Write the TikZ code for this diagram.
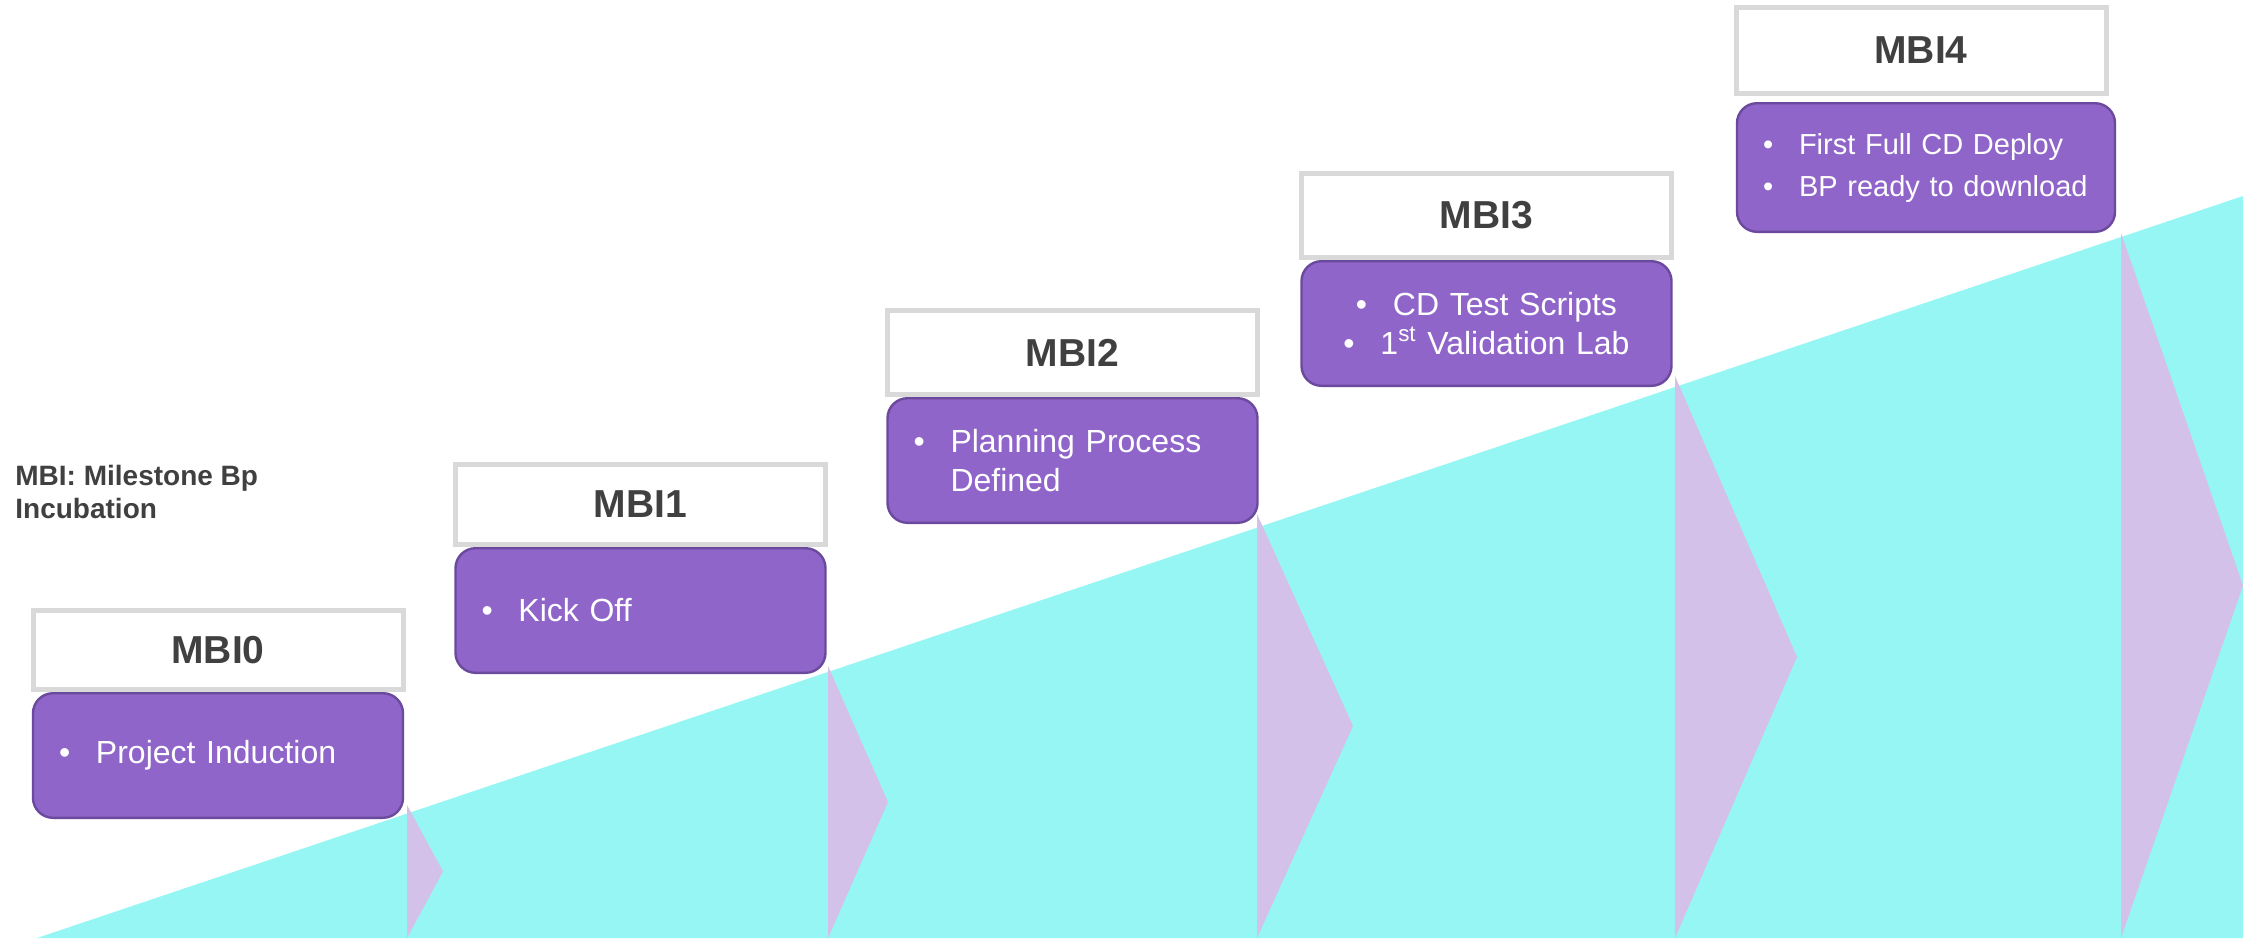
\documentclass[tikz,border=0pt]{standalone}
\usepackage{fontspec}
\setmainfont{Liberation Sans}
\usetikzlibrary{positioning}
\definecolor{rampcyan}{HTML}{96F6F3}
\definecolor{chevlilac}{HTML}{D3C1EA}
\definecolor{boxpurple}{HTML}{9065C9}
\definecolor{boxedge}{HTML}{6B4A9E}
\definecolor{headgray}{HTML}{D9D9D9}
\definecolor{textgray}{HTML}{404040}
\tikzstyle{header} = [rectangle, minimum width=185pt, minimum height=39.5pt,
text centered, draw=headgray, line width=2.5pt, fill=white, text=textgray,
font=\bfseries\fontsize{19.5pt}{23pt}\selectfont]
\tikzstyle{milestone} = [rectangle, rounded corners=10pt, minimum width=185pt,
minimum height=62.3pt, text width=159pt, inner xsep=13pt, align=left,
draw=boxedge, line width=1.2pt, fill=boxpurple, text=white,
font=\fontsize{16pt}{19.5pt}\selectfont]
\tikzstyle{ramp} = [fill=rampcyan]
\tikzstyle{chevron} = [fill=chevlilac]
\newcommand{\bitem}[1]{\makebox[18.5pt][l]{\textbullet}#1}

\begin{document}
\begin{tikzpicture}[x=0.5pt, y=-0.5pt, node distance=0pt]
\useasboundingbox (0,0) rectangle (2249,939);
% Drawing the ramp and the chevrons
\fill[ramp] (37,938) -- (2243,196) -- (2243,938) -- cycle;
\foreach \x/\ytop/\dx in {407/805/36, 828/666/60, 1257/514/96, 1675/376/122, 2121/233/122}
  \fill[chevron] (\x,\ytop) -- (\x+\dx,{(\ytop+938)/2}) -- (\x,938) -- cycle;
%Calling the blocks
\node (note) [anchor=north west, inner sep=0pt, align=left, text=textgray,
  font=\bfseries\fontsize{14pt}{16.5pt}\selectfont] at (15,465) {MBI: Milestone Bp\\Incubation};
\node (h0) [header] at (218,650) {MBI0};
\node (b0) [milestone, below=of h0] {\bitem{Project Induction}};
\node (h1) [header, minimum height=40pt] at (640.5,504.5) {MBI1};
\node (b1) [milestone, below=of h1] {\bitem{Kick Off}};
\node (h2) [header, minimum height=42pt] at (1072.5,352.5) {MBI2};
\node (b2) [milestone, below=of h2] {\bitem{Planning Process}\\\hspace*{18.5pt}Defined};
\node (h3) [header, minimum height=42pt] at (1486.5,215.5) {MBI3};
\node (b3) [milestone, align=center, below=of h3] {\bitem{CD Test Scripts}\\\bitem{1\textsuperscript{st} Validation Lab}};
\node (h4) [header, minimum height=43pt] at (1921,50.5) {MBI4};
\node (b4) [milestone, minimum width=189pt, minimum height=64.3pt, text width=163pt,
  font=\fontsize{14.5pt}{21pt}\selectfont, below=3pt of h4, xshift=2.5pt]
  {\makebox[18pt][l]{\textbullet}First Full CD Deploy\\\makebox[18pt][l]{\textbullet}BP ready to download};
\end{tikzpicture}
\end{document}
